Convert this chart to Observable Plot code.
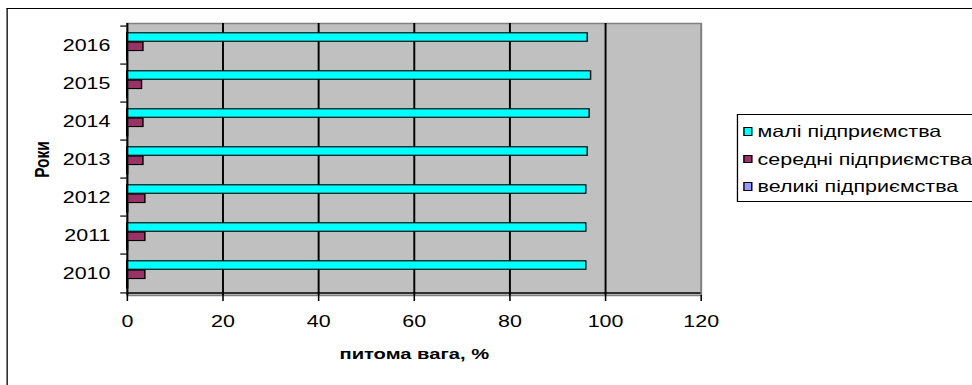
<!DOCTYPE html>
<html><head><meta charset="utf-8">
<script src="https://cdn.jsdelivr.net/npm/d3@7"></script>
<script src="https://cdn.jsdelivr.net/npm/@observablehq/plot@0.6"></script>
<style>
html,body{margin:0;padding:0;background:#fff;overflow:hidden;width:972px;height:385px}
#wrap{position:absolute;left:0;top:0;width:748px;height:385px;transform:scaleX(1.2995);transform-origin:0 0;font-family:"Liberation Sans",Arial,sans-serif;color:#000}
#chart{position:absolute;left:0;top:0}
.bl{position:absolute;left:5.4px;top:8px;height:380px;border-left:1px solid #000}
.bt{position:absolute;left:5.4px;top:8px;width:760px;border-top:1px solid #000}
#legend{position:absolute;left:567px;top:114px;width:200px;height:86px;border:1px solid #000;background:#fff}
.row{position:absolute;left:0;height:20px;line-height:20px;font-size:16.5px;white-space:nowrap}
.sw{position:absolute;left:4px;top:6px;width:6.5px;height:8.5px;border:1px solid #000;box-sizing:border-box}
.lt{position:absolute;left:15px;top:0}
</style></head><body>
<div id="wrap"><div id="chart"></div><div class="bl"></div><div class="bt"></div><div id="legend"></div></div>
<script>
const years = ["2010","2011","2012","2013","2014","2015","2016"];
const seriesNames = ["малі підприємства","середні підприємства","великі підприємства"];
const seriesColors = ["#00ffff","#993366","#9999ff"];
const smallShare = [96.0, 96.0, 96.0, 96.3, 96.7, 97.0, 96.3];
const mediumShare = [3.8, 3.8, 3.8, 3.4, 3.4, 3.1, 3.4];
const largeShare = [0.2, 0.2, 0.2, 0.2, 0.2, 0.1, 0.1];
const xTicks = [0, 20, 40, 60, 80, 100, 120];
const xTitle = "питома вага, %";
const yTitle = "Роки";

const values = [smallShare, mediumShare, largeShare];
const rows = years.flatMap((y, i) => seriesNames.map((s, k) => ({year: y, series: s, value: values[k][i]})));

const H = 385, mt = 23, mb = 90;
const bw = (H - mt - mb) / years.length;
const barH = 9.3;
const tops = [6.8, 16.1, 25.4];

const barMarks = seriesNames.map((s, k) => Plot.barX(rows.filter(d => d.series === s), {
  x: "value", y: "year", fill: seriesColors[k], stroke: "#000", strokeWidth: 1.1,
  insetTop: tops[k], insetBottom: bw - tops[k] - barH
}));

const chart = Plot.plot({
  width: 748, height: H,
  marginLeft: 97.5, marginRight: 208.9, marginTop: mt, marginBottom: mb,
  style: {fontFamily: "'Liberation Sans', Arial, sans-serif", fontSize: "16px", color: "#000", background: "transparent"},
  x: {domain: [0, 120], label: null},
  y: {domain: years.slice().reverse(), padding: 0, label: null},
  marks: [
    Plot.frame({fill: "#c0c0c0", stroke: "#808080", strokeWidth: 1.5}),
    Plot.ruleX(xTicks.slice(1, -1), {stroke: "#000", strokeWidth: 1.5}),
    ...barMarks,
    Plot.ruleX([0], {stroke: "#000", strokeWidth: 1.5}),
    Plot.tickY([years[0]], {y: d => d, stroke: "#000", strokeWidth: 1.5, dy: bw / 2}),
    Plot.axisY(years, {tickSize: 5, dy: -bw / 2, tickFormat: () => "", label: null, strokeWidth: 1.2}),
    Plot.axisY([years[0]], {tickSize: 5, dy: bw / 2, tickFormat: () => "", label: null, strokeWidth: 1.2}),
    Plot.axisY({tickSize: 0, tickPadding: 13, fontSize: 16.5, label: null}),
    Plot.axisX(xTicks, {tickSize: 6, tickPadding: 14, fontSize: 16.5, label: null, strokeWidth: 1.2}),
    Plot.text([xTitle], {text: d => d, frameAnchor: "bottom", dy: 63, fontWeight: "bold", fontSize: 15.5}),
    Plot.text([yTitle], {text: d => d, frameAnchor: "left", textAnchor: "middle", lineAnchor: "middle", dx: -65, rotate: -90, fontWeight: "bold", fontSize: 15.5})
  ]
});
document.getElementById("chart").appendChild(chart);

const legend = document.getElementById("legend");
const rowCenters = [16, 43.5, 71];
seriesNames.forEach((s, k) => {
  const r = document.createElement("div");
  r.className = "row";
  r.style.top = (rowCenters[k] - 10) + "px";
  const sw = document.createElement("div");
  sw.className = "sw"; sw.style.background = seriesColors[k];
  const t = document.createElement("span");
  t.className = "lt"; t.textContent = s;
  r.appendChild(sw); r.appendChild(t);
  legend.appendChild(r);
});
</script>
</body></html>
